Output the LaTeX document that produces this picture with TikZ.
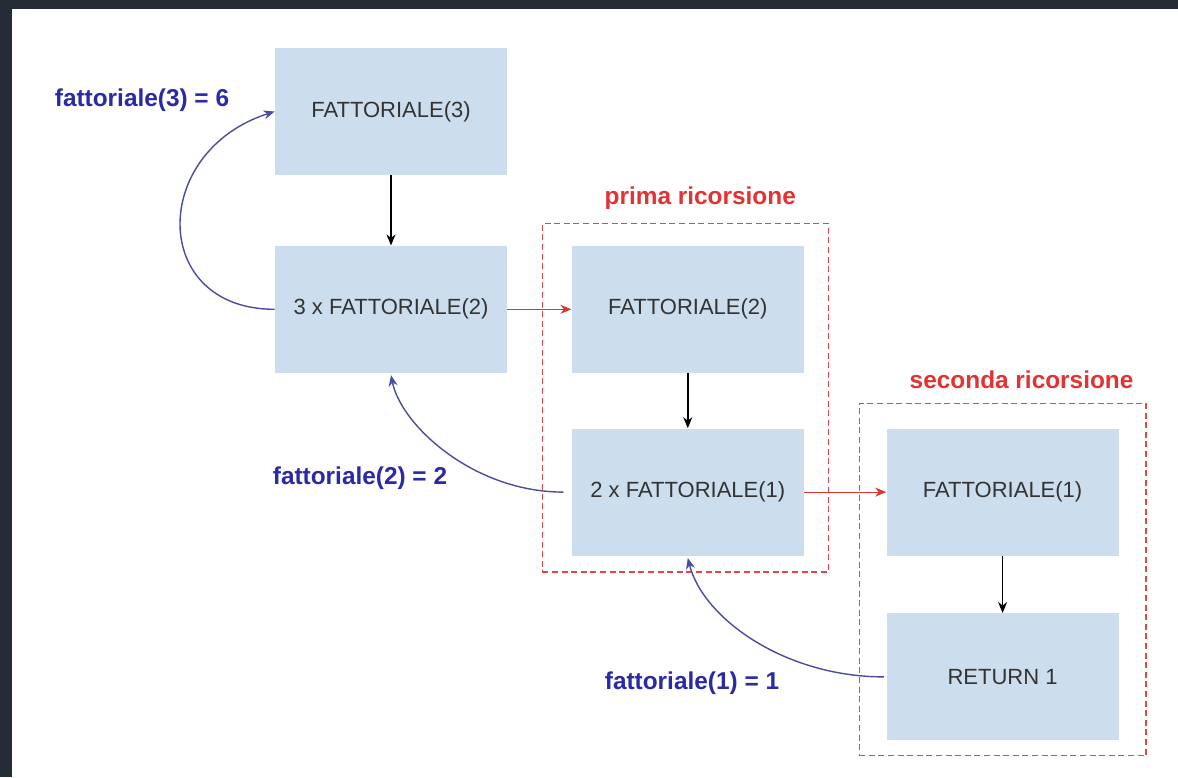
\documentclass[tikz,border=0pt]{standalone}
\usepackage{fontspec}
\setmainfont{Liberation Sans}
\usetikzlibrary{positioning, arrows.meta, calc, fit}
\definecolor{boxblue}{HTML}{CCDDED}
\definecolor{retblue}{HTML}{4B4BA0}
\definecolor{labblue}{HTML}{2A2AA8}
\definecolor{callred}{HTML}{E23232}
\definecolor{framered}{HTML}{E04848}
\definecolor{bgdark}{HTML}{262C36}

\begin{document}
\begin{tikzpicture}[
    x=0.5pt, y=-0.5pt,
    node distance=35pt and 32pt,
    block/.style={rectangle, fill=boxblue, minimum width=116pt,
                  minimum height=63.5pt, inner sep=0pt, align=center,
                  font=\fontsize{11}{13}\selectfont, text=black!80},
    flow/.style={-{Stealth[length=5.5pt,width=4.5pt]}, line width=0.7pt},
    call/.style={flow, draw=callred, line width=0.55pt},
    ret/.style={-{Stealth[length=5.5pt,width=4.5pt]}, draw=retblue, line width=0.7pt},
    frame/.style={draw=framered, dash pattern=on 3pt off 1.8pt,
                  line width=0.6pt, inner sep=0pt},
    retlabel/.style={font=\bfseries\fontsize{12.2}{14}\selectfont, text=labblue},
    framelabel/.style={font=\bfseries\fontsize{12.2}{14}\selectfont, text=callred},
  ]
  \fill[bgdark] (0,0) rectangle (1178,777);
  \fill[white] (12,9) rectangle (1178,777);
  \useasboundingbox (0,0) rectangle (1178,777);

  % call chain
  \node[block] (fatt3) at (391,111.5) {FATTORIALE(3)};
  \node[block, below=of fatt3]          (mul3)  {3 x FATTORIALE(2)};
  \node[block, right=of mul3]           (fatt2) {FATTORIALE(2)};
  \node[block, below=27.5pt of fatt2]   (mul2)  {2 x FATTORIALE(1)};
  \node[block, right=41pt of mul2]      (fatt1) {FATTORIALE(1)};
  \node[block, below=28.5pt of fatt1]   (ret1)  {RETURN 1};

  % recursion frames
  \coordinate (f1a) at ($(fatt2.north west)+(-29,-22)$);
  \coordinate (f1b) at ($(mul2.south east)+(24,16)$);
  \node[frame, fit=(f1a)(f1b)] (rec1) {};
  \node[framelabel] (rec1lab) at ($(rec1.north)+(15,-25)$) {prima ricorsione};
  \coordinate (f2a) at ($(fatt1.north west)+(-27,-25)$);
  \coordinate (f2b) at ($(ret1.south east)+(27,15)$);
  \node[frame, fit=(f2a)(f2b)] (rec2) {};
  \node[framelabel] (rec2lab) at ($(rec2.north)+(19,-23)$) {seconda ricorsione};

  \draw[flow] (fatt3) -- (mul3);
  \draw[flow] (fatt2) -- (mul2);
  \draw[flow] (fatt1) -- (ret1);
  \draw[call] (mul3) -- (fatt2);
  \draw[call] (mul2) -- (fatt1);

  % return values
  \draw[ret] (mul3.west) .. controls +(-125,0) and +(-125,40) .. (fatt3.west);
  \node[retlabel] (res3) at (142,100) {fattoriale(3) = 6};
  \draw[ret] ([xshift=-4pt]mul2.west) .. controls +(-90,0) and +(10,50) .. ([yshift=-1pt]mul3.south);
  \node[retlabel] (res2) at (360,478) {fattoriale(2) = 2};
  \draw[ret] ([xshift=-1pt]ret1.west) .. controls +(-100,0) and +(15,60) .. ([yshift=-1pt]mul2.south);
  \node[retlabel] (res1) at (692,683) {fattoriale(1) = 1};
\end{tikzpicture}
\end{document}
